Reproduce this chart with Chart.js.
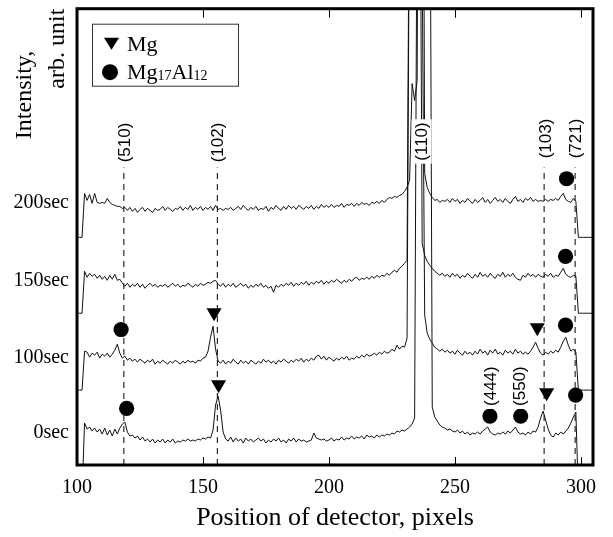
<!DOCTYPE html>
<html>
<head>
<meta charset="utf-8">
<script src="https://cdn.jsdelivr.net/npm/chart.js@4"></script>
<style>
  body { margin: 0; background: #fff; }
  canvas { display: block; }
</style>
</head>
<body>
<canvas id="xrdChart" width="613" height="537"></canvas>
<script>
// detector position axis
const xTicks = [100, 150, 200, 250, 300];
const xMin = 100;
const xMax = 304.8;

// y positions of the time labels (stacked traces, arbitrary units)
const timeLabels = ["0sec", "100sec", "150sec", "200sec"];
const timeLevels = [32, 107, 185, 263];

// detector pixels 100 .. 305
const pixels = [];
for (let p = 100; p <= 305; p++) pixels.push(p);

// intensity traces (stack offsets included)
const trace200 = [
  228, 228, 228, 272, 265, 271, 262, 272, 263, 262,
  263, 262, 267, 263, 261, 260, 259, 259, 257, 258,
  255, 258, 254, 257, 253, 256, 258, 254, 257, 255,
  253, 257, 255, 256, 259, 255, 258, 256, 254, 257,
  256, 259, 255, 258, 256, 260, 255, 258, 256, 259,
  255, 258, 256, 259, 255, 260, 256, 257, 255, 257,
  256, 258, 255, 257, 259, 256, 260, 257, 255, 258,
  256, 259, 255, 257, 256, 259, 254, 258, 256, 260,
  257, 255, 259, 256, 260, 257, 259, 256, 260, 258,
  256, 259, 257, 260, 256, 259, 257, 261, 258, 260,
  258, 261, 258, 260, 259, 262, 258, 261, 260, 262,
  259, 262, 260, 263, 261, 262, 260, 263, 262, 264,
  262, 265, 263, 266, 268, 267, 269, 268, 270, 271,
  274, 278, 285, 382, 365, 385, 999, 999, 292, 278,
  272, 268, 265, 266, 263, 265, 264, 266, 263, 267,
  264, 266, 262, 265, 263, 267, 264, 262, 266, 263,
  265, 268, 263, 266, 262, 265, 268, 264, 266, 263,
  267, 264, 262, 266, 269, 264, 266, 263, 267, 265,
  268, 264, 266, 264, 265, 264, 266, 264, 266, 265,
  267, 265, 269, 272, 266, 264, 263, 267, 264, 228,
  228, 228, 228, 228, 228, 228
];
const trace150 = [
  152, 152, 152, 194, 188, 192, 189, 191, 187, 190,
  186, 189, 185, 190, 186, 191, 185, 186, 182, 179,
  182, 178, 181, 179, 182, 178, 181, 177, 180, 182,
  179, 181, 178, 180, 179, 181, 178, 180, 182, 179,
  181, 178, 180, 179, 182, 180, 178, 181, 179, 182,
  180, 181, 183, 182, 184, 185, 181, 179, 182, 178,
  181, 179, 182, 178, 180, 182, 179, 181, 177, 180,
  178, 181, 179, 182, 178, 180, 177, 179, 173, 180,
  178, 181, 179, 182, 180, 183, 179, 182, 180, 183,
  181, 184, 180, 183, 181, 184, 182, 185, 181, 184,
  182, 185, 183, 186, 184, 182, 185, 183, 186, 184,
  187, 188, 185, 187, 186, 188, 186, 189, 187, 190,
  188, 190, 189, 192, 190, 193, 195, 193, 197, 199,
  202, 205, 650, 999, 999, 999, 700, 222, 210, 204,
  200, 197, 194, 192, 190, 192, 189, 191, 188, 192,
  189, 191, 187, 190, 188, 192, 189, 187, 191, 188,
  193, 189, 191, 188, 192, 189, 187, 191, 189, 193,
  188, 191, 189, 192, 188, 186, 185, 190, 188, 192,
  189, 191, 188, 191, 189, 188, 191, 189, 192, 188,
  190, 189, 193, 197, 191, 189, 188, 190, 189, 152,
  152, 152, 152, 152, 152, 152
];
const trace100 = [
  75, 75, 75, 114, 113, 108, 112, 110, 113, 107,
  111, 109, 112, 108, 111, 115, 121, 112, 107, 109,
  105, 107, 104, 106, 103, 106, 104, 102, 105, 103,
  106, 101, 104, 102, 105, 103, 101, 104, 102, 105,
  103, 101, 104, 102, 105, 103, 104, 102, 105, 104,
  107, 108, 114, 128, 139, 116, 104, 102, 105, 101,
  104, 102, 106, 103, 101, 105, 102, 104, 101, 105,
  103, 101, 104, 102, 106, 103, 105, 102, 104, 101,
  105, 103, 106, 104, 102, 105, 103, 106, 104, 107,
  103, 106, 104, 107, 105, 109, 110, 106, 109, 105,
  108, 106, 104, 107, 105, 108, 106, 109, 105, 107,
  106, 109, 107, 110, 108, 111, 109, 110, 112, 110,
  113, 111, 114, 112, 113, 116, 114, 120, 116, 119,
  118, 127, 600, 900, 999, 999, 999, 500, 150, 132,
  126, 122, 118, 116, 114, 116, 113, 115, 112, 114,
  111, 115, 112, 110, 114, 111, 113, 110, 114, 111,
  116, 112, 114, 110, 115, 112, 116, 111, 113, 110,
  115, 112, 114, 111, 116, 112, 114, 111, 113, 111,
  114, 118, 123, 117, 112, 110, 113, 111, 114, 112,
  115, 113, 118, 124, 128, 120, 114, 116, 113, 75,
  75, 75, 75, 75, 75, 75
];
const trace0 = [
  -30, -30, -30, 42, 36, 38, 34, 37, 33, 36,
  31, 37, 30, 35, 29, 36, 31, 37, 41, 43,
  33, 29, 30, 27, 29, 25, 28, 24, 26, 23,
  26, 22, 25, 23, 26, 22, 25, 23, 26, 22,
  24, 23, 25, 24, 26, 24, 25, 24, 26, 25,
  27, 26, 28, 27, 35, 60, 69, 55, 33, 26,
  24, 28, 23, 27, 24, 26, 22, 27, 24, 26,
  23, 25, 27, 24, 26, 22, 25, 23, 26, 24,
  27, 23, 25, 22, 26, 24, 27, 23, 26, 24,
  25, 23, 24, 25, 32, 27, 26, 25, 26, 24,
  25, 27, 24, 26, 25, 28, 25, 27, 26, 29,
  26, 28, 27, 29, 26, 30, 28, 29, 27, 30,
  28, 30, 29, 31, 30, 32, 31, 34, 33, 35,
  34, 36, 38, 41, 47, 600, 900, 999, 999, 900,
  700, 58, 48, 44, 40, 38, 37, 35, 36, 34,
  33, 35, 32, 34, 31, 33, 30, 32, 31, 33,
  31, 34, 36, 38, 33, 31, 30, 32, 31, 33,
  31, 34, 32, 35, 38, 33, 31, 32, 30, 33,
  31, 34, 33, 38, 47, 54, 45, 36, 30, 28,
  32, 30, 33, 31, 34, 37, 42, 48, 53, -30,
  -30, -30, -30, -30, -30, -30
];

// phase markers
const mgX = [154.4, 156.2, 282.7, 286.4];
const mgY = [152.6, 80.6, 137.6, 72.6];
const alX = [294.3, 293.9, 117.5, 293.9, 119.7, 263.9, 276.1, 297.9];
const alY = [286.7, 209, 135.7, 140, 56.7, 49, 49, 70];

// reflection labels and dashed guide lines
const hklNames = ["(510)", "(102)", "(110)", "(103)", "(721)", "(444)", "(550)"];
const hklX = [118.6, 155.7, 236.8, 285.8, 297.7, 263.9, 275.5];
const hklY = [323, 323, 324, 327, 327, 79, 79];
const guideX = [118.6, 155.7, 285.4, 297.7];
const guideTop = 298;

function toPoints(xs, ys) {
  return xs.map((x, i) => ({ x: x, y: ys[i] }));
}

function traceSet(values) {
  return {
    data: toPoints(pixels, values),
    borderColor: "#111",
    borderWidth: 1,
    pointRadius: 0,
    tension: 0
  };
}

let datasets = [trace0, trace100, trace150, trace200].map(traceSet);

guideX.forEach(x => {
  datasets.push({
    data: [{ x: x, y: 0 }, { x: x, y: guideTop }],
    borderColor: "#000",
    borderWidth: 1,
    borderDash: [6, 5],
    pointRadius: 0
  });
});

datasets.push({
  data: toPoints(mgX, mgY),
  showLine: false,
  pointStyle: "triangle",
  pointRotation: 180,
  pointRadius: 8.7,
  pointBorderWidth: 0,
  pointBackgroundColor: "#000"
});
datasets.push({
  data: toPoints(alX, alY),
  showLine: false,
  pointStyle: "circle",
  pointRadius: 7.6,
  pointBorderWidth: 0,
  pointBackgroundColor: "#000"
});

const serif = "'Liberation Serif', 'Times New Roman', serif";
const sans = "'Liberation Sans', Arial, sans-serif";

// frame, inward ticks, hkl labels and legend box
const decorations = {
  id: "decorations",
  afterDraw(chart) {
    const ctx = chart.ctx;
    const area = chart.chartArea;
    const xs = chart.scales.x;
    const ys = chart.scales.y;
    ctx.save();

    // hkl labels
    ctx.font = "17px " + sans;
    ctx.textAlign = "center";
    ctx.textBaseline = "middle";
    hklNames.forEach((name, i) => {
      const px = xs.getPixelForValue(hklX[i]);
      const py = ys.getPixelForValue(hklY[i]);
      const w = ctx.measureText(name).width;
      ctx.save();
      ctx.translate(px, py);
      ctx.rotate(-Math.PI / 2);
      ctx.fillStyle = "#fff";
      ctx.fillRect(-w / 2 - 3, -10, w + 6, 20);
      ctx.fillStyle = "#000";
      ctx.fillText(name, 0, 1);
      ctx.restore();
    });

    // inward ticks on bottom and top
    ctx.strokeStyle = "#000";
    ctx.lineWidth = 1;
    xTicks.forEach(v => {
      const px = Math.round(xs.getPixelForValue(v)) + 0.5;
      ctx.beginPath();
      ctx.moveTo(px, area.bottom);
      ctx.lineTo(px, area.bottom - 8);
      ctx.moveTo(px, area.top);
      ctx.lineTo(px, area.top + 9);
      ctx.stroke();
    });

    // frame
    ctx.lineWidth = 3;
    ctx.strokeRect(area.left, area.top, area.right - area.left, area.bottom - area.top);

    // legend
    const lx = area.left + 15;
    const ly = area.top + 15;
    ctx.lineWidth = 1;
    ctx.strokeStyle = "#333";
    ctx.fillStyle = "#fff";
    ctx.fillRect(lx, ly, 146, 62);
    ctx.strokeRect(lx + 0.5, ly + 0.5, 146, 62);

    ctx.fillStyle = "#000";
    ctx.beginPath();
    ctx.moveTo(lx + 12, ly + 14);
    ctx.lineTo(lx + 27, ly + 14);
    ctx.lineTo(lx + 19.5, ly + 26);
    ctx.closePath();
    ctx.fill();
    ctx.beginPath();
    ctx.arc(lx + 18, ly + 48.5, 8, 0, Math.PI * 2);
    ctx.fill();

    ctx.textAlign = "left";
    ctx.textBaseline = "alphabetic";
    let tx = lx + 35;
    ctx.font = "22px " + serif;
    ctx.fillText("Mg", tx, ly + 27);

    const parts = [["Mg", 22], ["17", 14], ["Al", 22], ["12", 14]];
    parts.forEach(([text, size]) => {
      ctx.font = size + "px " + serif;
      ctx.fillText(text, tx, ly + 55 + (size < 20 ? 1 : 0));
      tx += ctx.measureText(text).width;
    });

    ctx.restore();
  }
};

new Chart(document.getElementById("xrdChart"), {
  type: "line",
  data: { datasets: datasets },
  options: {
    responsive: false,
    animation: false,
    layout: { padding: { top: 8, right: 20, left: 0, bottom: 0 } },
    plugins: { legend: { display: false }, tooltip: { enabled: false } },
    scales: {
      x: {
        type: "linear",
        min: xMin,
        max: xMax,
        grid: { display: false, drawTicks: false },
        border: { display: false },
        afterBuildTicks: s => { s.ticks = xTicks.map(v => ({ value: v })); },
        afterFit: s => { s.height = 72; },
        ticks: { padding: 11, color: "#000", font: { family: serif, size: 20 } },
        title: {
          display: true,
          text: "Position of detector, pixels",
          color: "#000",
          font: { family: serif, size: 26 },
          padding: { top: 0, bottom: 3 }
        }
      },
      y: {
        min: 0,
        max: 457,
        grid: { display: false, drawTicks: false },
        border: { display: false },
        afterBuildTicks: s => { s.ticks = timeLevels.map(v => ({ value: v })); },
        afterFit: s => {
          s.width = 77;
          s.paddingTop = 0;
          s.paddingBottom = 0;
        },
        ticks: {
          padding: 8,
          color: "#000",
          font: { family: serif, size: 20 },
          callback: (v, i) => timeLabels[i]
        },
        title: {
          display: true,
          text: ["Intensity,       ", "arb. unit"],
          align: "end",
          color: "#000",
          font: { family: serif, size: 24, lineHeight: 1.375 },
          padding: { top: 8.5, bottom: 0 }
        }
      }
    }
  },
  plugins: [decorations]
});
</script>
</body>
</html>
